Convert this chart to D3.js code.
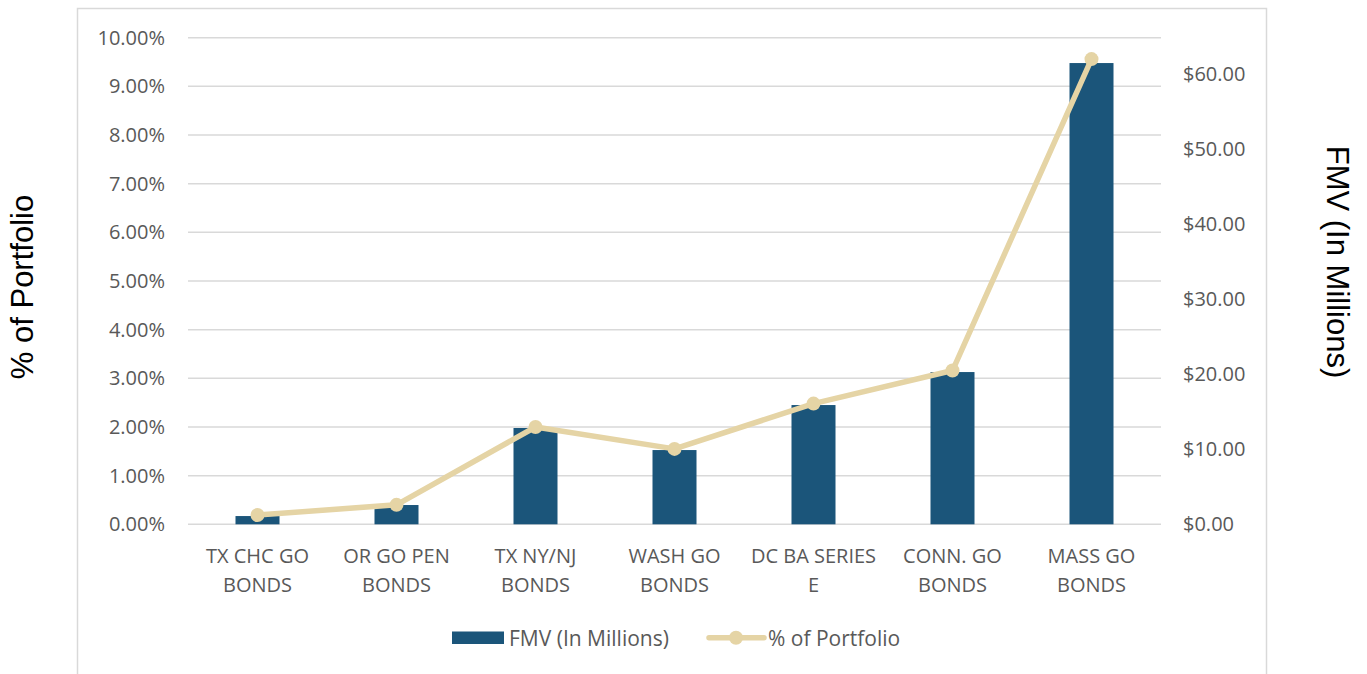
<!DOCTYPE html>
<html>
<head>
<meta charset="utf-8">
<script src="https://cdn.jsdelivr.net/npm/d3@7"></script>
<style>
  body { margin: 0; background: #fff; }
  text { font-family: "Open Sans", "Liberation Sans", sans-serif; }
</style>
</head>
<body>
<script>
// chart data
var categories = [['TX CHC GO','BONDS'],['OR GO PEN','BONDS'],['TX NY/NJ','BONDS'],
  ['WASH GO','BONDS'],['DC BA SERIES','E'],['CONN. GO','BONDS'],['MASS GO','BONDS']];
var fmv = [1.1, 2.57, 12.84, 9.9, 15.9, 20.3, 61.5];          // $ millions (bars, right axis)
var pct = [0.19, 0.40, 2.00, 1.55, 2.48, 3.16, 9.56];         // % of portfolio (line, left axis)
var leftTicks = [0,1,2,3,4,5,6,7,8,9,10];
var rightTicks = [0,10,20,30,40,50,60];

var W = 1367, H = 674;
var svg = d3.select('body').append('svg').attr('width', W).attr('height', H);

// outer chart frame
svg.append('path').attr('d','M77.5,' + (H+2) + ' V8.5 H1266.5 V' + (H+2))
  .attr('fill','none').attr('stroke','#d9d9d9').attr('stroke-width',1.5);

var plot = {left:188, right:1161, top:37.7, bottom:524.3};
var x = d3.scaleBand().domain(d3.range(categories.length)).range([plot.left, plot.right]).paddingInner(0).paddingOuter(0);
var yL = d3.scaleLinear().domain([0,10]).range([plot.bottom, plot.top]);
var yR = d3.scaleLinear().domain([0,(plot.bottom-plot.top)/7.5]).range([plot.bottom, plot.top]);

// gridlines
svg.append('g').selectAll('line').data(leftTicks).join('line')
  .attr('x1',plot.left).attr('x2',plot.right)
  .attr('y1',function(d){return yL(d);}).attr('y2',function(d){return yL(d);})
  .attr('stroke','#d9d9d9').attr('stroke-width',1.5);

// left axis
var gl = svg.append('g').attr('transform','translate(' + plot.left + ',0)')
  .call(d3.axisLeft(yL).tickValues(leftTicks).tickSize(0).tickPadding(23)
    .tickFormat(function(d){return d.toFixed(2) + '%';}));
gl.select('.domain').remove();
gl.selectAll('text').attr('font-size',20).attr('fill','#595959')
  .style('font-family','"Open Sans", sans-serif');

// right axis
var gr = svg.append('g').attr('transform','translate(' + plot.right + ',0)')
  .call(d3.axisRight(yR).tickValues(rightTicks).tickSize(0).tickPadding(22)
    .tickFormat(function(d){return '$' + d.toFixed(2);}));
gr.select('.domain').remove();
gr.selectAll('text').attr('font-size',20).attr('fill','#595959')
  .style('font-family','"Open Sans", sans-serif');

// bars
var barW = 44;
svg.append('g').selectAll('rect').data(fmv).join('rect')
  .attr('x',function(d,i){return x(i) + x.bandwidth()/2 - barW/2;})
  .attr('width',barW)
  .attr('y',function(d){return yR(d);})
  .attr('height',function(d){return yR(0) - yR(d);})
  .attr('fill','#1b557a');

// line
var line = d3.line().x(function(d,i){return x(i) + x.bandwidth()/2;}).y(function(d){return yL(d);});
svg.append('path').datum(pct).attr('d',line)
  .attr('fill','none').attr('stroke','#e5d4a5').attr('stroke-width',5.5).attr('stroke-linejoin','round');
svg.append('g').selectAll('circle').data(pct).join('circle')
  .attr('cx',function(d,i){return x(i) + x.bandwidth()/2;})
  .attr('cy',function(d){return yL(d);})
  .attr('r',7).attr('fill','#e5d4a5');

// category labels
var cl = svg.append('g').selectAll('text').data(categories).join('text')
  .attr('text-anchor','middle').attr('font-size',20).attr('fill','#595959')
  .attr('x',function(d,i){return x(i) + x.bandwidth()/2;});
cl.selectAll('tspan').data(function(d){return d;}).join('tspan')
  .attr('x',function(){return d3.select(this.parentNode).attr('x');})
  .attr('y',function(d,j){return 563 + j*29;})
  .text(function(d){return d;});

// axis titles
svg.append('text').attr('transform','translate(33,287) rotate(-90)')
  .attr('text-anchor','middle').attr('font-size',31).attr('fill','#000')
  .style('font-family','"Liberation Sans", Arial, sans-serif')
  .text('% of Portfolio');
svg.append('text').attr('transform','translate(1327,262) rotate(90)')
  .attr('text-anchor','middle').attr('font-size',31).attr('fill','#000')
  .style('font-family','"Liberation Sans", Arial, sans-serif')
  .text('FMV (In Millions)');

// legend
var lg = svg.append('g');
lg.append('rect').attr('x',452).attr('y',631.5).attr('width',52).attr('height',12.5).attr('fill','#1b557a');
lg.append('text').attr('x',509).attr('y',645.5).attr('font-size',21).attr('fill','#595959').text('FMV (In Millions)');
lg.append('line').attr('x1',709).attr('x2',764).attr('y1',637.7).attr('y2',637.7)
  .attr('stroke','#e5d4a5').attr('stroke-width',5.5).attr('stroke-linecap','round');
lg.append('circle').attr('cx',736).attr('cy',637.7).attr('r',7).attr('fill','#e5d4a5');
lg.append('text').attr('x',768).attr('y',645.5).attr('font-size',21).attr('fill','#595959').text('% of Portfolio');
</script>
</body>
</html>
